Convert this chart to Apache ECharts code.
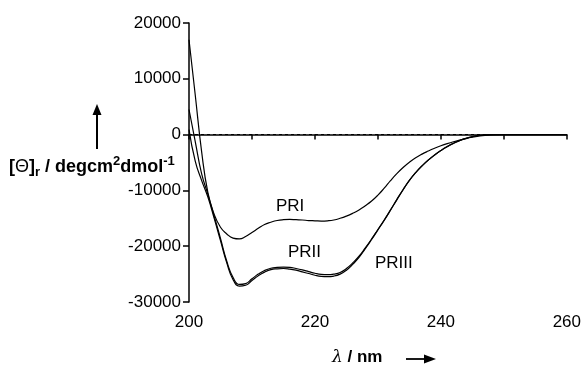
<!DOCTYPE html>
<html>
<head>
<meta charset="utf-8">
<script src="https://cdn.jsdelivr.net/npm/echarts@6/dist/echarts.min.js"></script>
<style>
  html, body { margin: 0; padding: 0; background: #fff; }
  #chart { width: 584px; height: 365px; }
</style>
</head>
<body>
<div id="chart"></div>
<script>
// wavelength (nm), one point per nm
const wavelength = [];
for (let w = 200; w <= 260; w++) wavelength.push(w);

const pri = [17000, 7000, -3000, -10400, -14300, -16600, -17800, -18550, -18700, -18250,
  -17550, -16800, -16100, -15700, -15400, -15250, -15200, -15250, -15300, -15400,
  -15450, -15500, -15450, -15300, -15000, -14600, -14100, -13500, -12750, -11900,
  -10850, -9600, -8250, -7000, -5900, -4950, -4150, -3500, -2950, -2450,
  -2000, -1620, -1280, -980, -710, -480, -290, -140, -50, 0,
  20, 20, 20, 20, 20, 20, 20, 20, 20, 20, 20];

const prii = [4500, -1300, -7000, -10700, -14600, -18600, -22700, -25600, -26850, -26700,
  -25850, -25000, -24350, -23950, -23800, -23750, -23800, -24000, -24250, -24550,
  -24850, -25050, -25100, -25000, -24700, -24000, -23000, -21800, -20300, -18700,
  -17000, -15300, -13500, -11650, -9850, -8200, -6800, -5600, -4550, -3650,
  -2850, -2150, -1550, -1050, -650, -350, -150, -50, 0, 10,
  10, 10, 10, 10, 10, 10, 10, 10, 10, 10, 10];

const priii = [900, -4800, -8200, -11200, -15000, -19000, -23000, -26000, -27150, -27000,
  -26150, -25300, -24650, -24200, -24050, -24000, -24100, -24300, -24600, -24900,
  -25200, -25400, -25450, -25350, -25000, -24300, -23250, -22000, -20450, -18800,
  -17080, -15360, -13550, -11690, -9880, -8220, -6820, -5620, -4570, -3670,
  -2870, -2170, -1570, -1070, -670, -370, -160, -60, 0, 10,
  10, 10, 10, 10, 10, 10, 10, 10, 10, 10, 10];

const yTicks = { min: -30000, max: 20000, step: 10000 };
const xTicks = { min: 200, max: 260, step: 10, labelStep: 20 };

function pairs(ys) {
  return wavelength.map((w, i) => [w, ys[i]]);
}

const chart = echarts.init(document.getElementById('chart'));
const lineStyle = { color: '#000', width: 1.2 };
const font = 'Liberation Sans, Arial, sans-serif';

chart.setOption({
  animation: false,
  grid: { left: 189, right: 17, top: 23, bottom: 63 },
  xAxis: {
    type: 'value',
    min: xTicks.min,
    max: xTicks.max,
    interval: xTicks.step,
    axisLine: { lineStyle: { color: '#000', width: 1.5 } },
    axisTick: { length: 5, lineStyle: { color: '#000', width: 1.5 } },
    splitLine: { show: false },
    axisLabel: {
      color: '#000', fontSize: 17, fontFamily: font, margin: 12,
      formatter: v => (v % xTicks.labelStep === 0 ? String(v) : '')
    }
  },
  yAxis: {
    type: 'value',
    min: yTicks.min,
    max: yTicks.max,
    interval: yTicks.step,
    axisLine: { show: true, lineStyle: { color: '#000', width: 1.5 } },
    axisTick: { show: true, length: 6, lineStyle: { color: '#000', width: 1.5 } },
    splitLine: { show: false },
    axisLabel: { color: '#000', fontSize: 17, fontFamily: font, margin: 8, formatter: v => String(v) }
  },
  series: [
    {
      name: 'PRI', type: 'line', data: pairs(pri), smooth: 0.5,
      symbol: 'none', lineStyle: lineStyle,
      markLine: {
        silent: true, symbol: 'none', label: { show: false },
        lineStyle: { color: '#000', type: [3, 3], width: 1.2 },
        data: [{ yAxis: 0 }]
      }
    },
    { name: 'PRII', type: 'line', data: pairs(prii), smooth: 0.5, symbol: 'none', lineStyle: lineStyle },
    { name: 'PRIII', type: 'line', data: pairs(priii), smooth: 0.5, symbol: 'none', lineStyle: lineStyle }
  ],
  graphic: [
    {
      type: 'text', left: 9, top: 155,
      style: {
        text: '{b|[}{t|Θ}{b|]}{sub|r}{b| / degcm}{sup|2}{b|dmol}{sup|-1}',
        rich: {
          b: { fontSize: 18, fontWeight: 'bold', fontFamily: font, fill: '#000', lineHeight: 24 },
          t: { fontSize: 18, fontFamily: font, fill: '#000', lineHeight: 24 },
          sub: { fontSize: 13, fontWeight: 'bold', fontFamily: font, fill: '#000', lineHeight: 13, verticalAlign: 'bottom' },
          sup: { fontSize: 13, fontWeight: 'bold', fontFamily: font, fill: '#000', lineHeight: 13, verticalAlign: 'top' }
        }
      }
    },
    { type: 'line', shape: { x1: 97, y1: 149, x2: 97, y2: 112 }, style: { stroke: '#000', lineWidth: 2 } },
    { type: 'polygon', shape: { points: [[92.5, 115], [97, 104], [101.5, 115]] }, style: { fill: '#000' } },
    {
      type: 'text', left: 332, top: 349,
      style: {
        text: '{l|λ}{b| / nm}',
        rich: {
          l: { fontSize: 17, fontStyle: 'italic', fontFamily: 'DejaVu Serif, serif', fill: '#000' },
          b: { fontSize: 17, fontWeight: 'bold', fontFamily: font, fill: '#000' }
        }
      }
    },
    { type: 'line', shape: { x1: 406, y1: 359, x2: 428, y2: 359 }, style: { stroke: '#000', lineWidth: 1.8 } },
    { type: 'polygon', shape: { points: [[424, 354.5], [436, 359], [424, 363.5]] }, style: { fill: '#000' } },
    { type: 'text', left: 276, top: 198, style: { text: 'PRI', fontSize: 17, fontFamily: font, fill: '#000' } },
    { type: 'text', left: 288, top: 244, style: { text: 'PRII', fontSize: 17, fontFamily: font, fill: '#000' } },
    { type: 'text', left: 375, top: 255, style: { text: 'PRIII', fontSize: 17, fontFamily: font, fill: '#000' } }
  ]
});
</script>
</body>
</html>
